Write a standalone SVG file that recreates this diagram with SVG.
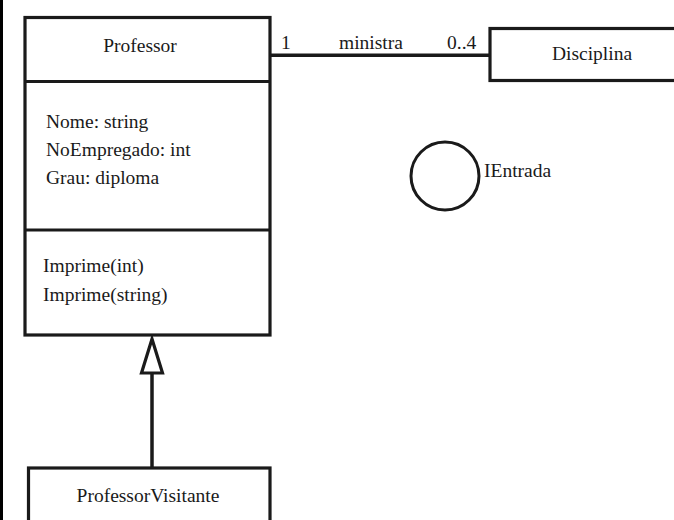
<svg xmlns="http://www.w3.org/2000/svg" width="674" height="520" viewBox="0 0 674 520">
<style>
.box{fill:#fff;stroke:#1a1a1a;stroke-width:3.2}
.ln{fill:none;stroke:#1a1a1a;stroke-width:3.5}
.t{font-family:'Liberation Serif','DejaVu Serif','Times New Roman',Times,serif;font-size:19.5px;fill:#1a1a1a}
</style>
<rect x="0" y="0" width="674" height="520" fill="#fff"/>
<rect x="0" y="0" width="3" height="520" fill="#000"/>
<g id="connectors">
<line class="ln" x1="270" y1="55.3" x2="490" y2="55.3"/>
<line class="ln" x1="152" y1="372" x2="152" y2="468"/>
<polygon points="152,339 141.5,373 162.5,373" fill="#fff" stroke="#1a1a1a" stroke-width="3.2" stroke-linejoin="miter"/>
<text class="t" x="281" y="48.5">1</text>
<text class="t" x="339" y="48.5">ministra</text>
<text class="t" x="447" y="48.5">0..4</text>
</g>
<g id="professor">
<rect class="box" x="25" y="17.5" width="245" height="317.5"/>
<line class="ln" x1="25" y1="81.5" x2="270" y2="81.5" style="stroke-width:3.2"/>
<line class="ln" x1="25" y1="230" x2="270" y2="230" style="stroke-width:3.2"/>
<text class="t" x="140" y="52" text-anchor="middle">Professor</text>
<text class="t" x="46" y="127.5">Nome: string</text>
<text class="t" x="46" y="155.5">NoEmpregado: int</text>
<text class="t" x="46" y="184">Grau: diploma</text>
<text class="t" x="43" y="272">Imprime(int)</text>
<text class="t" x="43" y="300.5">Imprime(string)</text>
</g>
<g id="disciplina">
<rect class="box" x="490" y="28.5" width="200" height="52"/>
<text class="t" x="592" y="60" text-anchor="middle">Disciplina</text>
</g>
<g id="ientrada">
<circle cx="445" cy="176" r="34" fill="#fff" stroke="#1a1a1a" stroke-width="3"/>
<text class="t" x="484" y="177">IEntrada</text>
</g>
<g id="professorvisitante">
<rect class="box" x="28.5" y="468" width="241.5" height="70"/>
<text class="t" x="148" y="502" text-anchor="middle">ProfessorVisitante</text>
</g>
</svg>
